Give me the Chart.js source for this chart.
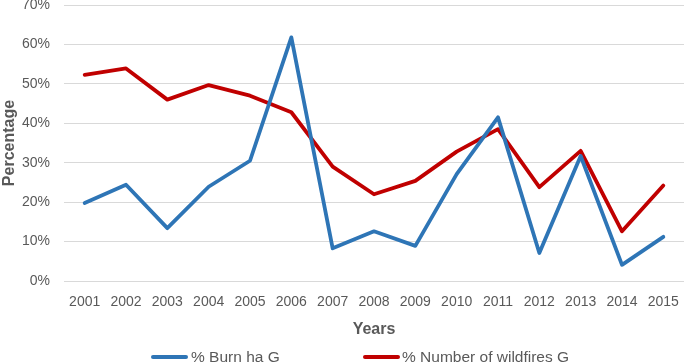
<!DOCTYPE html>
<html>
<head>
<meta charset="utf-8">
<script src="https://cdn.jsdelivr.net/npm/chart.js@4/dist/chart.umd.min.js"></script>
<style>
  html, body { margin: 0; padding: 0; background: #fff; }
  #wrap { position: relative; width: 685px; height: 364px; overflow: hidden; font-family: "Liberation Sans", Arial, sans-serif; }
  #c { position: absolute; left: 0; top: 0; }
  .leg { position: absolute; top: 347px; height: 20px; line-height: 20px; font-size: 15.5px; color: #595959; white-space: nowrap; }
  .sw { position: absolute; top: 8px; width: 37px; height: 4px; border-radius: 2px; }
</style>
</head>
<body>
<div id="wrap">
  <canvas id="c" width="685" height="364"></canvas>
  <div class="leg" style="left:151px;"><span class="sw" style="left:0;background:#2E75B6;"></span><span style="position:absolute;left:40px;">% Burn ha G</span></div>
  <div class="leg" style="left:363px;"><span class="sw" style="left:0;background:#C00000;"></span><span style="position:absolute;left:39px;">% Number of wildfires G</span></div>
</div>
<script>
const years = ["2001","2002","2003","2004","2005","2006","2007","2008","2009","2010","2011","2012","2013","2014","2015"];
const burnHa = [19.8, 24.4, 13.4, 23.9, 30.5, 61.8, 8.3, 12.6, 8.9, 27.1, 41.5, 7.1, 31.7, 4.1, 11.2];
const numberWildfires = [52.3, 53.9, 46.0, 49.7, 47.0, 42.8, 29.0, 22.0, 25.4, 32.8, 38.5, 23.8, 33.0, 12.6, 24.2];
const seriesLabels = ["% Burn ha G", "% Number of wildfires G"];
const yTicks = [0, 10, 20, 30, 40, 50, 60, 70];

const tickColor = "#595959";
const fontFam = "'Liberation Sans', Arial, sans-serif";

new Chart(document.getElementById("c"), {
  type: "line",
  data: {
    labels: years,
    datasets: [
      { label: seriesLabels[0], data: burnHa, borderColor: "#2E75B6", backgroundColor: "#2E75B6",
        borderWidth: 3.8, pointRadius: 0, tension: 0, borderJoinStyle: "round", borderCapStyle: "round" },
      { label: seriesLabels[1], data: numberWildfires, borderColor: "#C00000", backgroundColor: "#C00000",
        borderWidth: 3.8, pointRadius: 0, tension: 0, borderJoinStyle: "round", borderCapStyle: "round" }
    ]
  },
  options: {
    responsive: false,
    animation: false,
    devicePixelRatio: 1,
    layout: { padding: { top: 5, right: 1, left: 0, bottom: 0 } },
    plugins: { legend: { display: false }, tooltip: { enabled: false } },
    scales: {
      x: {
        offset: true,
        grid: { display: false, drawTicks: false, offset: true },
        border: { display: false },
        ticks: { color: tickColor, font: { family: fontFam, size: 14 }, padding: 13, maxRotation: 0, autoSkip: false },
        title: { display: true, text: "Years", color: tickColor, font: { family: fontFam, size: 16, weight: "bold" }, padding: { top: 4, bottom: 25 } },
        afterFit: s => { s.height = 83; s.paddingLeft = 0; s.paddingRight = 0; }
      },
      y: {
        min: 0, max: 70,
        afterBuildTicks: s => { s.ticks = yTicks.map(v => ({ value: v })); },
        grid: { color: "#D9D9D9", lineWidth: 1, drawTicks: false },
        border: { display: false },
        ticks: { color: tickColor, font: { family: fontFam, size: 14 }, padding: 14, callback: v => v + "%" },
        title: { display: true, text: "Percentage", color: tickColor, font: { family: fontFam, size: 16, weight: "bold" }, padding: { top: 0, bottom: 0 } },
        afterFit: s => { s.width = 64; s.paddingTop = 0; s.paddingBottom = 0; }
      }
    }
  }
});
</script>
</body>
</html>
